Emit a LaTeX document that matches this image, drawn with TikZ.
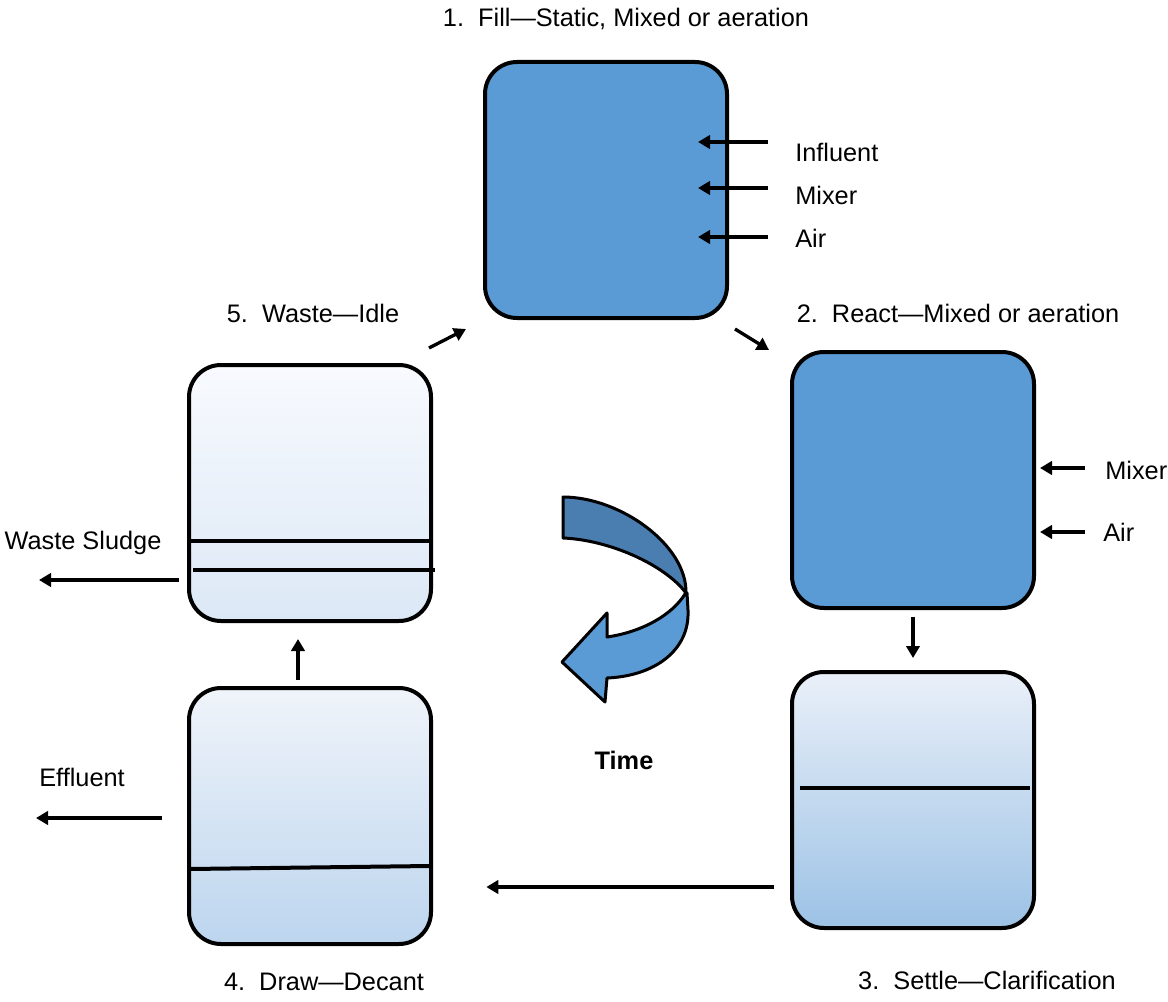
\documentclass[tikz,border=0pt]{standalone}
\usepackage{fontspec}
\setmainfont{Liberation Sans}
\usetikzlibrary{arrows.meta}
\definecolor{tankblue}{HTML}{5B9BD5}
\definecolor{turnblue}{HTML}{4A7DB0}
\definecolor{idletop}{HTML}{F8FAFE}
\definecolor{idlebot}{HTML}{DCE8F6}
\definecolor{decanttop}{HTML}{F0F4FA}
\definecolor{decantbot}{HTML}{BCD5EE}
\definecolor{settletop}{HTML}{EAF0F9}
\definecolor{settlebot}{HTML}{9CC2E5}
\begin{document}
\begin{tikzpicture}[x=0.75pt,y=-0.75pt,
  tank/.style={draw,line width=3pt,rounded corners=24pt,minimum width=181.5pt,
    minimum height=192pt,inner sep=0pt},
  flow/.style={line width=2.5pt,-{Triangle[length=9pt,width=10pt]}},
  lbl/.style={inner sep=0pt,font=\fontsize{19}{23}\selectfont},
  level/.style={line width=3pt},
  turn/.style={line width=2.25pt,line join=round}]
  \useasboundingbox (0,0) rectangle (1168,1002);
  % tanks
  \node[tank,fill=tankblue] (fill) at (606,190) {};
  \node[tank,fill=tankblue] (react) at (913,480) {};
  \node[tank,top color=settletop,bottom color=settlebot] (settle) at (913,800) {};
  \node[tank,top color=decanttop,bottom color=decantbot] (decant) at (310,816) {};
  \node[tank,top color=idletop,bottom color=idlebot] (idle) at (310,493) {};
  % liquid levels
  \draw[level] (800,788) -- (1030,788);
  \draw[level] (190,869) -- (430,866);
  \draw[level] (190,541) -- (430,541);
  \draw[level] (193,570) -- (435,570);
  % stage titles
  \node[lbl] (t1) at (626,19) {1.\ \ Fill—Static, Mixed or aeration};
  \node[lbl] (t2) at (958,313) {2.\ \ React—Mixed or aeration};
  \node[lbl] (t3) at (987,980) {3.\ \ Settle—Clarification};
  \node[lbl] (t4) at (324,982) {4.\ \ Draw—Decant};
  \node[lbl] (t5) at (313,313) {5.\ \ Waste—Idle};
  \node[lbl,font=\fontsize{19}{23}\selectfont\bfseries] (time) at (624,760) {Time};
  % inputs and outputs
  \node[lbl,anchor=west] (inf) at (795,152) {Influent};
  \node[lbl,anchor=west] (mix1) at (795,195) {Mixer};
  \node[lbl,anchor=west] (air1) at (795,238) {Air};
  \node[lbl,anchor=west] (mix2) at (1105,470) {Mixer};
  \node[lbl,anchor=west] (air2) at (1103,532) {Air};
  \node[lbl] (sludge) at (83,543) {Waste Sludge};
  \node[lbl] (eff) at (82,777) {Effluent};
  \draw[flow] ([shift={(-27,-10)}]inf.west) -- ++(-70,0);
  \draw[flow] ([shift={(-27,-7)}]mix1.west) -- ++(-70,0);
  \draw[flow] ([shift={(-27,-1)}]air1.west) -- ++(-70,0);
  \draw[flow] ([shift={(-20,-2)}]mix2.west) -- ++(-45,0);
  \draw[flow] ([shift={(-18,0)}]air2.west) -- ++(-45,0);
  \draw[flow] ([shift={(-8,87)}]idle.west) -- ++(-140,0);
  \draw[flow] ([shift={(-25,2)}]decant.west) -- ++(-126,0);
  % cycle
  \draw[flow] ([shift={(-4,-15)}]idle.north east) -- ([shift={(-17,9)}]fill.south west);
  \draw[flow] ([shift={(6,9)}]fill.south east) -- ([shift={(-21,0)}]react.north west);
  \draw[flow,shorten <=5pt,shorten >=9pt] (react.south) -- (settle.north);
  \draw[flow,shorten <=12pt,shorten >=40pt] ([shift={(0,87)}]settle.west) -- ([shift={(0,87)}]settle.west -| decant.east);
  \draw[flow,shorten <=4.5pt,shorten >=12pt] ([shift={(-12,0)}]decant.north) -- ([shift={(-12,0)}]idle.south);
  % turning arrow
  \draw[turn,fill=turnblue] (563,497) -- (563,538) .. controls (610,540) and (665,565) .. (686,593)
    .. controls (687,545) and (620,497) .. (563,497) -- cycle;
  \draw[turn,fill=tankblue] (687,593) -- (688,610) .. controls (690,650) and (655,676) .. (607,678)
    -- (605,702) -- (562,662) -- (607,613) -- (607,637)
    .. controls (642,632) and (672,615) .. (685,594) -- cycle;
\end{tikzpicture}
\end{document}
